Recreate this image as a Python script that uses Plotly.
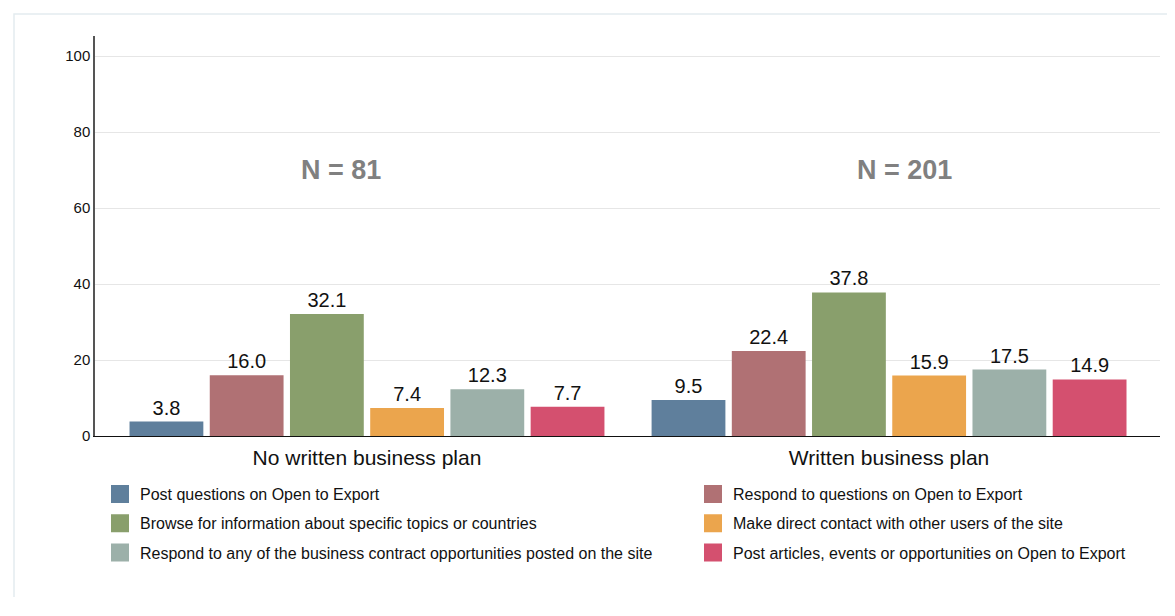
import plotly.graph_objects as go

categories = ["No written business plan", "Written business plan"]
series_names = [
    "Post questions on Open to Export",
    "Respond to questions on Open to Export",
    "Browse for information about specific topics or countries",
    "Make direct contact with other users of the site",
    "Respond to any of the business contract opportunities posted on the site",
    "Post articles, events or opportunities on Open to Export",
]
post_questions = [3.8, 9.5]
respond_questions = [16.0, 22.4]
browse_info = [32.1, 37.8]
direct_contact = [7.4, 15.9]
respond_contracts = [12.3, 17.5]
post_articles = [7.7, 14.9]
series_values = [post_questions, respond_questions, browse_info,
                 direct_contact, respond_contracts, post_articles]
colors = ["#5f7f9c", "#b07174", "#899f6c", "#eba54d", "#9cb0a9", "#d4506f"]
n_labels = ["N = 81", "N = 201"]
y_ticks = [0, 20, 40, 60, 80, 100]

W, H = 1175, 616
OFF = 8  # page body margin
ml, mr, mt, mb = 87, 23, 28, 188
pw, ph = W - ml - mr, H - mt - mb

def px_x(p):
    return (p - OFF - ml) / pw

def px_y(p):
    return (H - mb - (p - OFF)) / ph

fig = go.Figure()
for i, (name, vals, col) in enumerate(zip(series_names, series_values, colors)):
    fig.add_trace(go.Bar(
        x=categories, y=vals, name=name, marker=dict(color=col, line=dict(width=0)),
        text=[f"{v:.1f}" for v in vals], textposition="outside",
        textfont=dict(size=20, color="#111111"), cliponaxis=False,
        showlegend=False,
    ))
# legend entries (square swatches)
for i, (name, col) in enumerate(zip(series_names, colors)):
    fig.add_trace(go.Scatter(
        x=[None], y=[None], mode="markers", name=name,
        marker=dict(symbol="square", size=16, color=col, line=dict(color=col, width=2)),
        legend="legend" if i % 2 == 0 else "legend2",
        legendgroup=f"g{i}", showlegend=True,
    ))

font_family = "Liberation Sans, Arial, sans-serif"
legend_common = dict(
    orientation="v", bgcolor="rgba(0,0,0,0)", font=dict(size=16, color="#111111", family=font_family),
    itemsizing="trace", tracegroupgap=5.5, yanchor="top", xanchor="left",
)
bx0, bx1, by0, by1 = px_x(14), px_x(1200), px_y(597), px_y(14)
fig.update_layout(
    width=W, height=H,
    margin=dict(l=ml, r=mr, t=mt, b=mb),
    paper_bgcolor="white", plot_bgcolor="white",
    font=dict(family=font_family, color="#111111"),
    barmode="group", bargap=0.078, bargroupgap=0.08,
    legend=dict(x=px_x(100), y=px_y(477), **legend_common),
    legend2=dict(x=px_x(693), y=px_y(477), **legend_common),
    xaxis=dict(
        range=[-0.521, 1.519], showline=True, linecolor="#111111", linewidth=1.2,
        ticks="outside", ticklen=3, tickcolor="rgba(0,0,0,0)",
        tickfont=dict(size=21, color="#111111"), showgrid=False, zeroline=False,
    ),
    yaxis=dict(
        range=[0, 105.3], tickvals=y_ticks, ticktext=[str(t) for t in y_ticks],
        showline=True, linecolor="#555555", linewidth=1.5,
        gridcolor="#e6e6e6", gridwidth=1, zeroline=False, ticks="",
        tickfont=dict(size=15, color="#111111"),
    ),
    shapes=[dict(
        type="path", xref="paper", yref="paper",
        path=f"M {bx0},{by0} L {bx0},{by1} L {bx1},{by1}",
        line=dict(color="#e4ecef", width=1.5), layer="below",
    )],
)
fig.add_annotation(x=-0.05, y=70, xref="x", yref="y", text=f"<b>{n_labels[0]}</b>",
                   showarrow=False, font=dict(size=27, color="#808080", family=font_family))
fig.add_annotation(x=1.029, y=70, xref="x", yref="y", text=f"<b>{n_labels[1]}</b>",
                   showarrow=False, font=dict(size=27, color="#808080", family=font_family))

fig.write_html("out.html")
